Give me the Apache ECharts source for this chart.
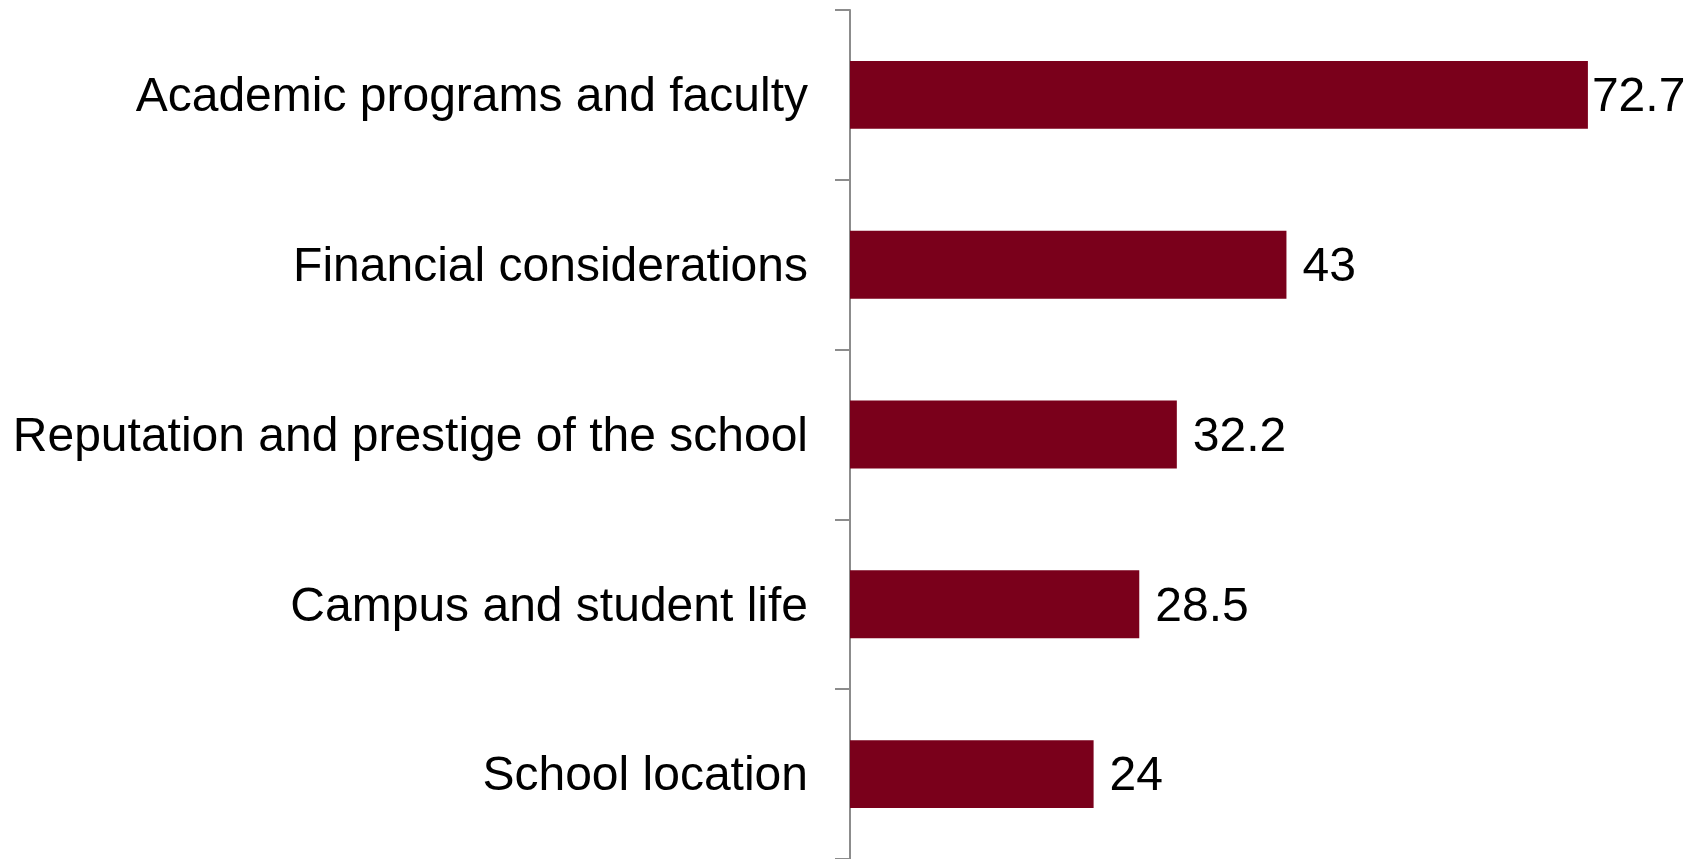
<!DOCTYPE html>
<html>
<head>
<meta charset="utf-8">
<script src="https://cdn.jsdelivr.net/npm/echarts@6/dist/echarts.min.js"></script>
<style>
  html, body { margin: 0; padding: 0; background: #fff; }
  #chart { width: 1700px; height: 859px; }
</style>
</head>
<body>
<div id="chart"></div>
<script>
// Factors ranked by share of respondents (%)
const categories = [
  'Academic programs and faculty',
  'Financial considerations',
  'Reputation and prestige of the school',
  'Campus and student life',
  'School location'
];
const values = [72.7, 43, 32.2, 28.5, 24];

const FONT = '"Liberation Sans", Arial, Helvetica, sans-serif';
const BAR_COLOR = '#7a001b';

const chart = echarts.init(document.getElementById('chart'), null, { renderer: 'canvas' });

// The longest bar sits close to the right edge, so its label hugs the bar.
const seriesData = values.map((v, i) =>
  i === 0 ? { value: v, label: { distance: 4 } } : v
);

chart.setOption({
  animation: false,
  backgroundColor: '#ffffff',
  grid: { left: 850, top: 10, width: 812, height: 850, containLabel: false },
  xAxis: {
    type: 'value',
    min: 0,
    max: 80,
    show: false
  },
  yAxis: {
    type: 'category',
    data: categories,
    inverse: true,
    boundaryGap: true,
    axisLine: { show: true, lineStyle: { color: '#8c8c8c', width: 2 } },
    axisTick: { show: true, inside: false, length: 15, lineStyle: { color: '#8c8c8c', width: 2 } },
    axisLabel: {
      margin: 42,
      color: '#000',
      fontFamily: FONT,
      fontSize: 48,
      verticalAlign: 'middle',
      formatter: '{t|{value}}',
      rich: {
        t: { color: '#000', fontFamily: FONT, fontSize: 48, lineHeight: 48, padding: [6, 0, 0, 0] }
      }
    },
    splitLine: { show: false }
  },
  series: [{
    type: 'bar',
    data: seriesData,
    barWidth: '40%',
    itemStyle: { color: BAR_COLOR },
    label: {
      show: true,
      position: 'right',
      distance: 16,
      offset: [0, 3],
      color: '#000',
      fontFamily: FONT,
      fontSize: 48
    }
  }]
});
</script>
</body>
</html>
